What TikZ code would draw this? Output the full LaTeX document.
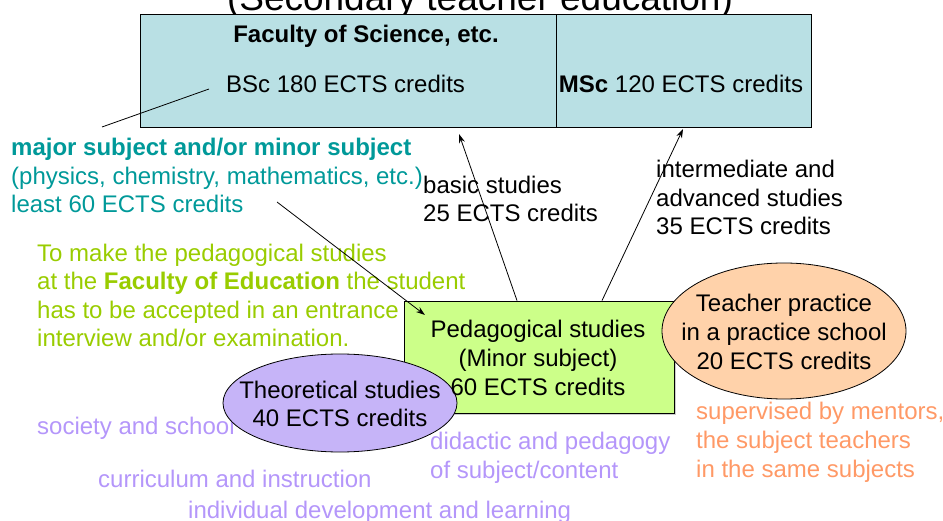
\documentclass[tikz,border=0pt]{standalone}
\usepackage{fontspec}
\setmainfont{Liberation Sans}
\usetikzlibrary{shapes,arrows,arrows.meta,positioning,calc,shadows}
\definecolor{panelblue}{RGB}{185, 224, 228}
\definecolor{majorteal}{RGB}{0, 153, 153}
\definecolor{admitgreen}{RGB}{153, 204, 0}
\definecolor{pedgreen}{RGB}{204, 255, 137}
\definecolor{theorypurple}{RGB}{198, 180, 248}
\definecolor{lilac}{RGB}{180, 150, 250}
\definecolor{practicepeach}{RGB}{255, 210, 170}
\definecolor{mentororange}{RGB}{255, 153, 102}
\newcommand{\bodyfont}{\fontsize{24}{28.6}\selectfont}

\begin{document}
\begin{tikzpicture}[
    x=1pt, y=-1pt,
    txt/.style={anchor=base west, inner sep=0pt, align=left, font=\bodyfont},
    mid/.style={inner sep=0pt, align=center, font=\bodyfont},
    panel/.style={rectangle, draw, line width=0.8pt, fill=panelblue, anchor=north west,
                  inner sep=0pt, minimum height=113pt},
    blob/.style={ellipse, draw, line width=0.8pt, inner sep=0pt},
    arr/.style={->, line width=0.8pt, >={Stealth[length=9pt,width=6pt]}},
    lnk/.style={line width=0.8pt},
  ]
    \useasboundingbox (0,0) rectangle (943,521);
    \clip (0,0) rectangle (943,521);

    % Title
    \node[anchor=base, inner sep=0pt, font=\fontsize{37}{40}\selectfont] (title) at (480,10.5)
      {(Secondary teacher education)};

    % Faculty of Science
    \node[panel, minimum width=416pt] (bsc) at (140,14) {};
    \node[panel, minimum width=255pt] (msc) at (556,14) {};
    \node[txt, anchor=base, font=\bodyfont\bfseries] (fac) at (366,43) {Faculty of Science, etc.};
    \node[txt] (bsctxt) at (226,93) {BSc 180 ECTS credits};
    \node[txt, anchor=base] (msctxt) at (681,93) {\textbf{MSc} 120 ECTS credits};

    % Subjects (multi-line texts sit on their last baseline)
    \node[txt, majorteal] (major) at (11,213)
      {\textbf{major subject and/or minor subject}\\(physics, chemistry, mathematics, etc.)\\least 60 ECTS credits};
    \node[txt, admitgreen] (admit) at (37,347)
      {To make the pedagogical studies\\at the \textbf{Faculty of Education} the student\\has to be accepted in an entrance\\interview and/or examination.};
    \node[txt] (basic) at (423,222) {basic studies\\25 ECTS credits};
    \node[txt] (inter) at (656,235) {intermediate and\\advanced studies\\35 ECTS credits};

    % Pedagogical studies
    \node[rectangle, draw, line width=0.8pt, fill=pedgreen, minimum width=270pt, minimum height=112pt,
          drop shadow={shadow xshift=2pt, shadow yshift=-2pt, fill=gray!80}] (ped) at (539,357) {};

    % Details
    \node[txt, lilac] (society) at (37,435) {society and school};
    \node[txt, lilac] (curric) at (98,487) {curriculum and instruction};
    \node[txt, lilac] (indiv) at (188,518) {individual development and learning};
    \node[txt, lilac] (didactic) at (430,478) {didactic and pedagogy\\of subject/content};
    \node[txt, mentororange] (mentor) at (696,477) {supervised by mentors,\\the subject teachers\\in the same subjects};

    \node[blob, fill=theorypurple, minimum width=234pt, minimum height=98pt] (theory) at (340,403) {};
    \node[blob, fill=practicepeach, minimum width=244pt, minimum height=136pt] (practice) at (784,331) {};
    \node[mid] (pedtxt) at (538,358) {Pedagogical studies\\(Minor subject)\\60 ECTS credits};
    \node[mid] (theorytxt) at (340,404) {Theoretical studies\\40 ECTS credits};
    \node[mid] (practicetxt) at (784,332) {Teacher practice\\in a practice school\\20 ECTS credits};

    % Arrows
    \coordinate (bscTip) at (459,134);
    \coordinate (mscTip) at (683,129);
    \coordinate (majorTop) at (102,127);
    \coordinate (bscEnd) at (209,89);
    \coordinate (leastEnd) at (277,202);
    \coordinate (pedIn) at (425,315);
    \draw[lnk] (majorTop) -- (bscEnd);
    \draw[arr] (leastEnd) -- (pedIn);
    \draw[arr] ([xshift=-22pt]ped.north) -- (bscTip);
    \draw[arr] ([xshift=63pt]ped.north) -- (mscTip);
  \end{tikzpicture}
\end{document}
